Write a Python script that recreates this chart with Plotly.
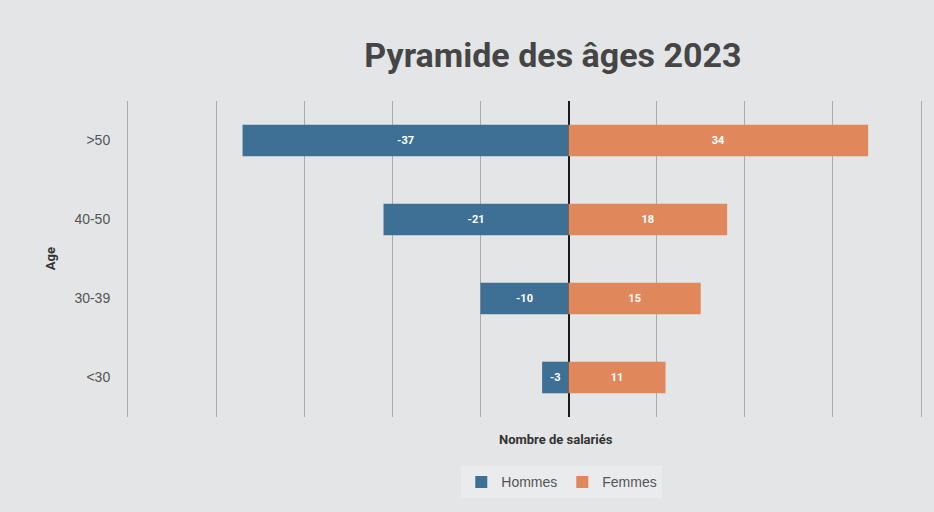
import plotly.graph_objects as go

categories = ["<30", "30-39", "40-50", ">50"]
hommes = [-3, -10, -21, -37]
femmes = [11, 15, 18, 34]

BLUE = "#3e7096"
ORANGE = "#e0875c"

fig = go.Figure()
fig.add_trace(go.Bar(
    y=categories, x=hommes, orientation="h", name="Hommes",
    marker=dict(color=BLUE, line=dict(width=0)),
    text=[f"<b>{v}</b>" for v in hommes], textposition="inside", insidetextanchor="middle",
    textfont=dict(color="white", size=11, family="Roboto"), width=0.4,
))
fig.add_trace(go.Bar(
    y=categories, x=femmes, orientation="h", name="Femmes",
    marker=dict(color=ORANGE, line=dict(width=0)),
    text=[f"<b>{v}</b>" for v in femmes], textposition="inside", insidetextanchor="middle",
    textfont=dict(color="white", size=11, family="Roboto"), width=0.4,
))

fig.update_layout(
    width=934, height=512,
    margin=dict(l=128, r=13, t=101, b=95),
    barmode="relative",
    paper_bgcolor="#e3e5e7",
    plot_bgcolor="rgba(0,0,0,0)",
    title=dict(text="<b>Pyramide des âges 2023</b>", x=0.592, xanchor="center",
               y=0.893, yanchor="middle",
               font=dict(family="Roboto", size=34, color="#454545")),
    xaxis=dict(range=[-50, 40], dtick=10, showticklabels=False, ticks="",
               showgrid=True, gridcolor="#a9acaf", gridwidth=1,
               zeroline=True, zerolinecolor="#1a1a1a", zerolinewidth=2,
               fixedrange=True),
    yaxis=dict(categoryorder="array", categoryarray=categories,
               showgrid=False, showline=True, mirror=True, linecolor="#a9acaf", linewidth=1,
               ticks="", ticklabelstandoff=14,
               tickfont=dict(family="Liberation Sans", size=14, color="#555555")),
    legend=dict(orientation="h", x=0.547, xanchor="center", y=-0.207, yanchor="middle",
                bgcolor="#e9ebed", font=dict(family="Liberation Sans", size=14, color="#555555"),
                itemwidth=30, traceorder="normal"),
    showlegend=True,
    annotations=[
        dict(text="<b>Age</b>", x=-0.098, y=0.5, xref="paper", yref="paper",
             textangle=-90, showarrow=False, xanchor="center", yanchor="middle",
             font=dict(family="Roboto", size=13, color="#333333")),
        dict(text="<b>Nombre de salariés</b>", x=0.54, y=-0.071, xref="paper", yref="paper",
             showarrow=False, xanchor="center", yanchor="middle",
             font=dict(family="Roboto", size=13, color="#333333")),
    ],
)

fig.write_html("out.html", config={"displayModeBar": False},
               post_script="document.body.style.margin='0';")
